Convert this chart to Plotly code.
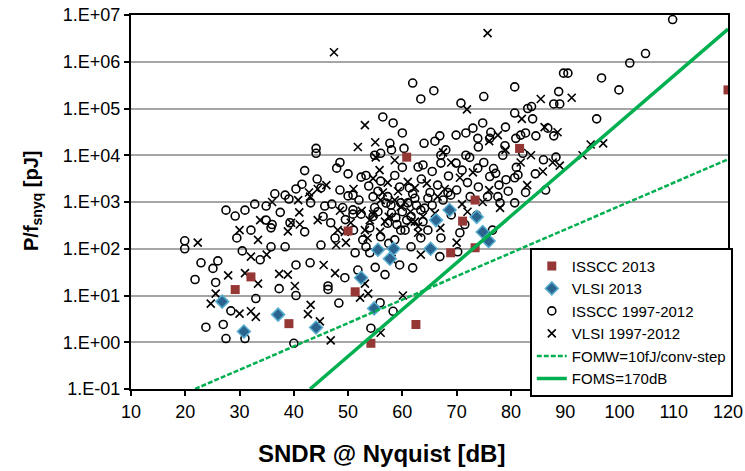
import plotly.graph_objects as go

# ---------------- data ----------------
isscc13_x = [29.2, 32.1, 39.1, 50.0, 51.3, 54.2, 60.8, 62.5, 68.9, 71.1, 73.4, 73.4, 81.6, 120.0]
isscc13_y = [13.4, 25, 2.5, 240, 12, 0.95, 9100, 2.4, 82, 390, 1100, 105, 14000, 250000]

vlsi13_x = [26.8, 30.8, 37.1, 44.1, 54.8, 55.5, 58.4, 57.7, 52.4, 68.7, 66.2, 73.7, 74.8, 75.9, 65.2]
vlsi13_y = [7.4, 1.7, 3.9, 2.07, 5.3, 95, 100, 61, 24, 675, 410, 480, 228, 146, 100]

isscc_old_x = [19.9, 19.9, 22.9, 25.1, 21.8, 25.6, 27.5, 29.2, 31, 29.5, 28.4, 23.8, 27, 27.5, 31,
               33, 40.4, 48.3, 46.3, 55.9, 58.3, 54.2, 40,
               44.1, 47.9, 48.5, 54.9, 56, 44.3, 39.1, 34.9, 43.1, 45.7, 45.4, 46.8, 50, 50.9, 49, 50.9, 50.9,
               53.3, 58.6, 54.9, 57.9, 59.7, 34.9, 35.8, 32.1, 33.8, 35.8, 38.4, 43, 40.4, 47.6, 51.3, 52.7,
               53.3, 54, 56, 58.6, 59.7, 59.5, 56.8, 49.4, 46.3, 51.8,
               52.4, 54.6, 55.5, 57.3, 54, 58.8, 60.5, 60.8,
               52.4, 56, 57.3, 59.5, 54.6,
               56.4, 58.3, 57.7, 44.1, 60.3,
               61.9, 63.4, 65.8, 70.8, 75, 80.7, 80.7, 83.8, 87.9, 89, 88.8, 89.7,
               64, 66, 66.9, 69.9, 71.7, 73, 74.8, 73.9, 76.1, 76.3, 78.9, 80.9, 81.8, 82.7, 84.6, 86.8, 87.9,
               109.8, 104.8, 101.9, 96.7, 99.9, 90.5, 95.8,
               62.9, 63.8, 67.1, 69.9, 72.4, 73.9, 76.1, 77.2, 79.1, 80.7, 81.3, 82.7, 80.7, 77.6, 78, 75.7,
               72, 68.4, 68.9, 65.1, 61.9, 63.4, 63.8, 64.7, 63.4, 67.1, 70.6, 61.9, 66.9, 70.2, 76.6, 73.7, 61.6,
               61, 61.6, 64.1, 64.7, 62.3,
               71.7, 67.1, 78.5, 82.2,
               86.4, 88.3, 83.1, 32.8, 40.4, 38.4, 39.3, 37.3, 36, 42,
               36.5, 41.5, 45, 47, 48.5, 49.5, 51, 52, 53.8, 55.5, 57, 58, 59, 60, 61.3, 62.6, 63.5, 65.5,
               66.5, 67.5, 68.5, 70, 71, 72.5, 74, 75, 76.8, 77.8, 79.5, 81, 84.5, 86, 65.5, 69, 71.5, 57.5,
               55, 45, 42, 37.5, 30.5, 26, 50, 60, 58, 68, 74, 79, 84, 60]
isscc_old_y = [148, 100, 50, 38, 22, 19, 670, 500, 670, 170, 4.7, 2.1, 2.4, 1.2, 1.2,
               8.6, 10, 6.9, 13.5, 7, 4.6, 2, 0.95,
               11000, 5300, 7000, 10000, 11000, 3100, 1160, 820, 960, 820, 490, 360, 1350, 1400, 760, 680, 550,
               3700, 3700, 760, 860, 960, 410, 280, 250, 58, 110, 110, 50, 45, 170, 82, 155,
               110, 82, 180, 155, 250, 45, 28, 24, 16, 35,
               550, 490, 620, 350, 280, 460, 250, 410,
               3400, 2800, 1300, 2100, 1300,
               66000, 49000, 18000, 14000, 14000,
               350000, 160000, 240000, 130000, 180000, 290000, 80000, 110000, 125000, 125000, 230000, 570000,
               18000, 20000, 26000, 27000, 30000, 38000, 49000, 23000, 23000, 31000, 16000, 23000, 27000, 30000, 26000, 38000, 26000,
               8000000, 1500000, 940000, 450000, 250000, 570000, 60000,
               5600, 6200, 6800, 6800, 9000, 5300, 3500, 4100, 3000, 3300, 3800, 1600, 960, 1300, 960, 1300,
               2600, 1600, 1400, 1600, 1500, 670, 380, 250, 170, 170, 220, 39, 68, 86, 250, 520, 110,
               960, 490, 740, 1200, 1200,
               10000, 10000, 10000, 11000,
               1800, 9100, 100000, 900, 1900, 1400, 360, 14, 330, 4700,
               1500, 2400, 2000, 900, 1800, 420, 250, 1100, 2200, 1700, 950, 580, 330, 620, 2000, 850, 3100, 4500,
               2300, 1100, 3600, 1800, 4800, 1300, 2100, 7000, 5200, 2300, 1700, 5500, 4000, 8000, 850, 530, 330, 130,
               40, 120, 230, 600, 90, 55, 4000, 5500, 13000, 13000, 15000, 40000, 60000, 30000]

vlsi_old_x = [22.3, 27.9, 30, 31, 24.7, 25.6, 30,
              32.1, 33, 43.1, 42.6, 44.8, 46.8, 56, 52.2, 60.1, 53.7,
              42.8, 40.8, 44.4, 55.1, 58.6, 61, 54.6, 56.4, 33.8, 39.5, 41.1, 38.9, 33.4, 44.4, 48.1, 47.8, 49.6,
              53.6, 54, 56.8, 32.1, 38.9, 47.6, 40.2, 53.1, 33.4,
              54.6, 55.9, 53.1, 60.5, 56, 50.5, 49.4,
              57.3, 58.6, 59.7,
              75.7, 47.4, 71.9, 85.5, 77.6, 86.2, 88.6,
              53.1, 51.8, 55,
              91.2, 94.7,
              62.3, 67.8, 70.6, 74.8, 78, 87.7, 85.9, 81.8, 66, 62.3, 62.9, 63.4, 70, 72, 67.5,
              61.6, 62.9, 63.8, 83.7, 37.3, 93.2,
              36, 41, 43, 46, 48.5, 51, 52.5, 55.8, 57.5, 59.2, 61.5, 64.5, 66.5, 69, 71, 73, 76, 79, 83, 89,
              35, 45.5, 58, 67, 76, 82, 97]
vlsi_old_y = [135, 27, 250, 30, 6.7, 11, 4.1,
              4.6, 3.5, 6.3, 4, 2.8, 1.1, 1.6, 9, 10, 11,
              1600, 1100, 1900, 9000, 7800, 2700, 3200, 1600, 410, 360, 330, 235, 155, 410, 250, 120, 135,
              170, 410, 380, 68, 28, 30, 16, 18, 18,
              550, 230, 250, 1000, 1100, 360, 230,
              2600, 1100, 790,
              4100000, 1600000, 96000, 160000, 27000, 40000, 31000,
              44000, 15000, 19000,
              170000, 17000,
              2000, 1900, 3300, 1000, 750, 7000, 4500, 7000, 570, 380, 300, 75, 135, 620, 11500,
              380, 220, 490, 10000, 29, 10000,
              1000, 600, 1300, 2300, 650, 1900, 650, 4800, 480, 1700, 620, 2500, 1300, 7000, 900, 4300, 1800, 13000, 2300, 6000,
              75, 45, 60, 280, 20000, 60000, 18000]

# reference lines (end points)
fomw_x = [21.8, 120]
fomw_y = [0.1, 8180]
foms_x = [43, 120]
foms_y = [0.1, 5000000]

y_tickvals = [0.1, 1, 10, 100, 1e3, 1e4, 1e5, 1e6, 1e7]
y_ticktext = ["1.E-01", "1.E+00", "1.E+01", "1.E+02", "1.E+03", "1.E+04", "1.E+05", "1.E+06", "1.E+07"]

FONT = "Liberation Sans, Arial, sans-serif"

fig = go.Figure()
fig.add_trace(go.Scatter(x=isscc_old_x, y=isscc_old_y, mode="markers", name="ISSCC 1997-2012",
                         legendrank=3,
                         marker=dict(symbol="circle-open", size=8, color="black", line=dict(width=1.6, color="black"))))
fig.add_trace(go.Scatter(x=vlsi_old_x, y=vlsi_old_y, mode="markers", name="VLSI 1997-2012",
                         legendrank=4,
                         marker=dict(symbol="x-thin-open", size=8, color="black", line=dict(width=1.6, color="black"))))
fig.add_trace(go.Scatter(x=isscc13_x, y=isscc13_y, mode="markers", name="ISSCC 2013",
                         legendrank=1,
                         marker=dict(symbol="square", size=9, color="#953735", line=dict(width=0))))
fig.add_trace(go.Scatter(x=vlsi13_x, y=vlsi13_y, mode="markers", name="VLSI 2013",
                         legendrank=2,
                         marker=dict(symbol="diamond", size=10, color="#2a6590", line=dict(width=1.5, color="#5aaed0"))))
fig.add_trace(go.Scatter(x=fomw_x, y=fomw_y, mode="lines", name="FOMW=10fJ/conv-step",
                         legendrank=5,
                         line=dict(color="#00b050", width=2.5, dash="5px,2px")))
fig.add_trace(go.Scatter(x=foms_x, y=foms_y, mode="lines", name="FOMS=170dB",
                         legendrank=6,
                         line=dict(color="#00b050", width=3.5)))

fig.update_layout(
    width=745, height=471,
    margin=dict(l=131, r=17, t=15, b=82, autoexpand=False),
    paper_bgcolor="white", plot_bgcolor="white",
    font=dict(family=FONT, color="black", size=18),
    showlegend=True,
    legend=dict(x=0.668, y=0.378, xanchor="left", yanchor="top",
                bgcolor="white", bordercolor="black", borderwidth=2,
                font=dict(size=15, family=FONT), itemsizing="trace",
                tracegroupgap=0),
    annotations=[
        dict(text="<b>SNDR @ Nyquist [dB]</b>", xref="paper", yref="paper",
             x=(381 - 131) / 597, y=-(453 - 389) / 374, xanchor="center", yanchor="middle",
             showarrow=False, font=dict(size=24, family=FONT, color="black")),
        dict(text="<b>P/f<sub>snyq</sub> [pJ]</b>", xref="paper", yref="paper",
             x=-(131 - 32) / 597, y=(389 - 201) / 374, xanchor="center", yanchor="middle",
             textangle=-90, showarrow=False, font=dict(size=20, family=FONT, color="black")),
    ],
)
fig.update_xaxes(range=[10, 120], dtick=10, tick0=10, showgrid=False,
                 showline=True, linecolor="black", linewidth=2, mirror=True,
                 ticks="outside", ticklen=5, tickwidth=1.5, tickcolor="black",
                 tickfont=dict(size=18), zeroline=False)
fig.update_yaxes(type="log", range=[-1, 7], tickvals=y_tickvals, ticktext=y_ticktext,
                 showgrid=True, gridcolor="#a6a6a6", gridwidth=2,
                 showline=True, linecolor="black", linewidth=2, mirror=True,
                 ticks="outside", ticklen=5, tickwidth=1.5, tickcolor="black",
                 tickfont=dict(size=18), zeroline=False)

fig.write_html("out.html")
